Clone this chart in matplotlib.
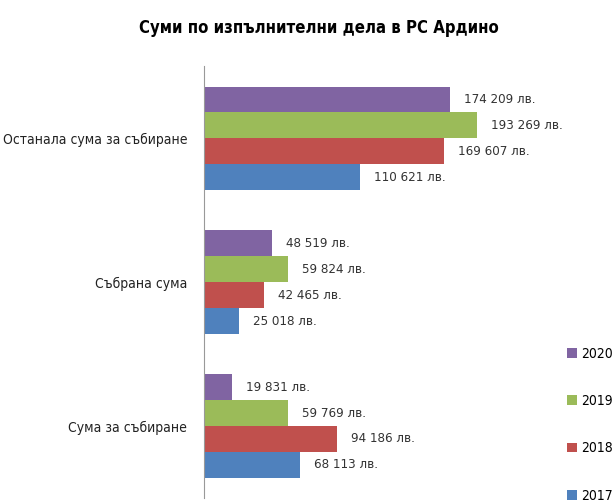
import numpy as np
import matplotlib.pyplot as plt

plt.rcParams['font.family'] = ['DejaVu Sans']
plt.rcParams['font.stretch'] = 'condensed'

categories = ['Останала сума за събиране', 'Събрана сума', 'Сума за събиране']
years = ['2020', '2019', '2018', '2017']
values = {
    '2020': [174209, 48519, 19831],
    '2019': [193269, 59824, 59769],
    '2018': [169607, 42465, 94186],
    '2017': [110621, 25018, 68113],
}
colors = {'2020': '#8064A2', '2019': '#9BBB59', '2018': '#C0504D', '2017': '#4F81BD'}

def fmt(v):
    return '{:,}'.format(v).replace(',', ' ') + ' лв.'

fig = plt.figure(figsize=(6.14, 5.03), dpi=100)
ax = fig.add_axes([0.332, 0.01, 0.53, 0.858])

h = 0.18
y = np.arange(len(categories))
for i, yr in enumerate(years):
    off = (i - 1.5) * h
    bars = ax.barh(y + off, values[yr], height=h, color=colors[yr], label=yr)
    for b, v in zip(bars, values[yr]):
        ax.annotate(fmt(v), (b.get_width(), b.get_y() + b.get_height() / 2),
                    xytext=(10, 0), textcoords='offset points',
                    va='center', ha='left', fontsize=9.5, color='#333333')

ax.set_ylim(2.5, -0.5)
ax.set_xlim(0, 230000)
ax.set_yticks(y)
ax.set_yticklabels(categories, fontsize=10, color='#222222')
ax.tick_params(axis='y', length=0, pad=12)
ax.set_xticks([])
for s in ['top', 'right', 'bottom']:
    ax.spines[s].set_visible(False)
ax.spines['left'].set_color('#999999')

fig.text(0.52, 0.945, 'Суми по изпълнителни дела в РС Ардино',
         ha='center', va='center', fontsize=12, fontweight='bold')

leg = fig.legend(loc='upper left', bbox_to_anchor=(0.915, 0.322), frameon=False,
                 fontsize=10, handlelength=0.7, handleheight=0.7,
                 handletextpad=0.3, labelspacing=2.4, borderaxespad=0)

fig.savefig('out.png', dpi=100)
